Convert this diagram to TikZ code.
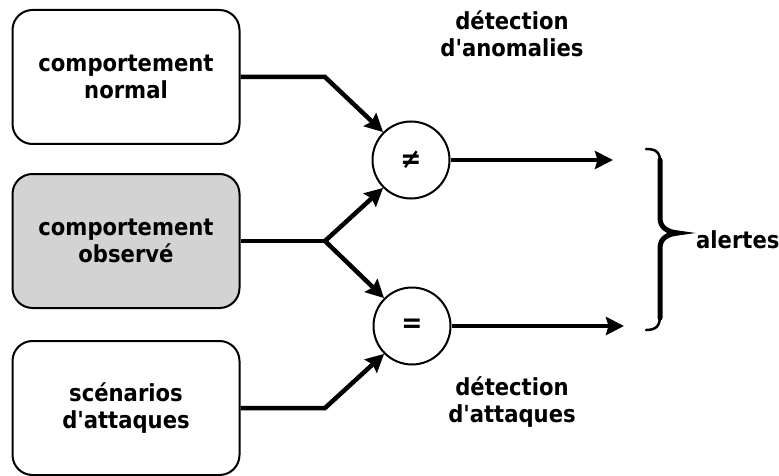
\documentclass[tikz,border=0pt]{standalone}
\usepackage{fontspec}
\setmainfont{DejaVu Sans Condensed}
\usetikzlibrary{arrows.meta}
\definecolor{boxgray}{RGB}{211,211,211}
\begin{document}
\begin{tikzpicture}[x=1pt,y=-1pt,
 box/.style={draw, line width=2pt, rounded corners=20pt, minimum width=227pt, minimum height=134pt, align=center, font=\fontsize{23.5}{27}\selectfont\bfseries},
 cmp/.style={draw, circle, line width=2pt, minimum size=77pt, inner sep=0pt, font=\fontsize{28}{28}\selectfont\bfseries},
 lbl/.style={align=center, font=\fontsize{23.5}{27}\selectfont\bfseries},
 flow/.style={line width=4.5pt, -{Stealth[length=18pt,width=18pt,inset=2.5pt]}},
 link/.style={line width=4.5pt},
]
\useasboundingbox (0,0) rectangle (779,476);
\node[box] (b1) at (126,77) {comportement\\normal};
\node[box, fill=boxgray] (b2) at (126,241) {comportement\\observé};
\node[box] (b3) at (126,408) {scénarios\\d\textquotesingle attaques};
\node[cmp] (ne) at (411,160) {≠};
\node[cmp] (eq) at (412,326) {=};
\coordinate (k1) at (325,77);
\coordinate (k2) at (325,241);
\coordinate (k3) at (325,408);
\coordinate (o1) at (613,160);
\coordinate (o2) at (624,326);
\draw[flow] (b1.east) -- (k1) -- (ne.135);
\draw[link] (b2.east) -- (k2);
\draw[flow] (k2) -- (ne.225);
\draw[flow] (k2) -- (eq.135);
\draw[flow] (b3.east) -- (k3) -- (eq.225);
\draw[flow] (ne) -- (o1);
\draw[flow] (eq) -- (o2);
\node[lbl] (l1) at (512,34) {détection\\d\textquotesingle anomalies};
\node[lbl] (l2) at (512,402) {détection\\d\textquotesingle attaques};
\draw[line width=2.5pt, line cap=round, line join=round] (646,149) .. controls (656,149) and (660,152) .. (660,162) -- (660,218) .. controls (660,228) and (668,232) .. (678,233) .. controls (668,234) and (660,238) .. (660,248) -- (660,316) .. controls (660,326) and (656,330) .. (646,330);
\draw[line width=5pt, line cap=round] (660,160) -- (660,218) .. controls (660,228) and (668,232) .. (678,233) .. controls (668,234) and (660,238) .. (660,248) -- (660,318);
\node[lbl, anchor=west, inner sep=0pt] (al) at (696,240) {alertes};
\end{tikzpicture}
\end{document}
